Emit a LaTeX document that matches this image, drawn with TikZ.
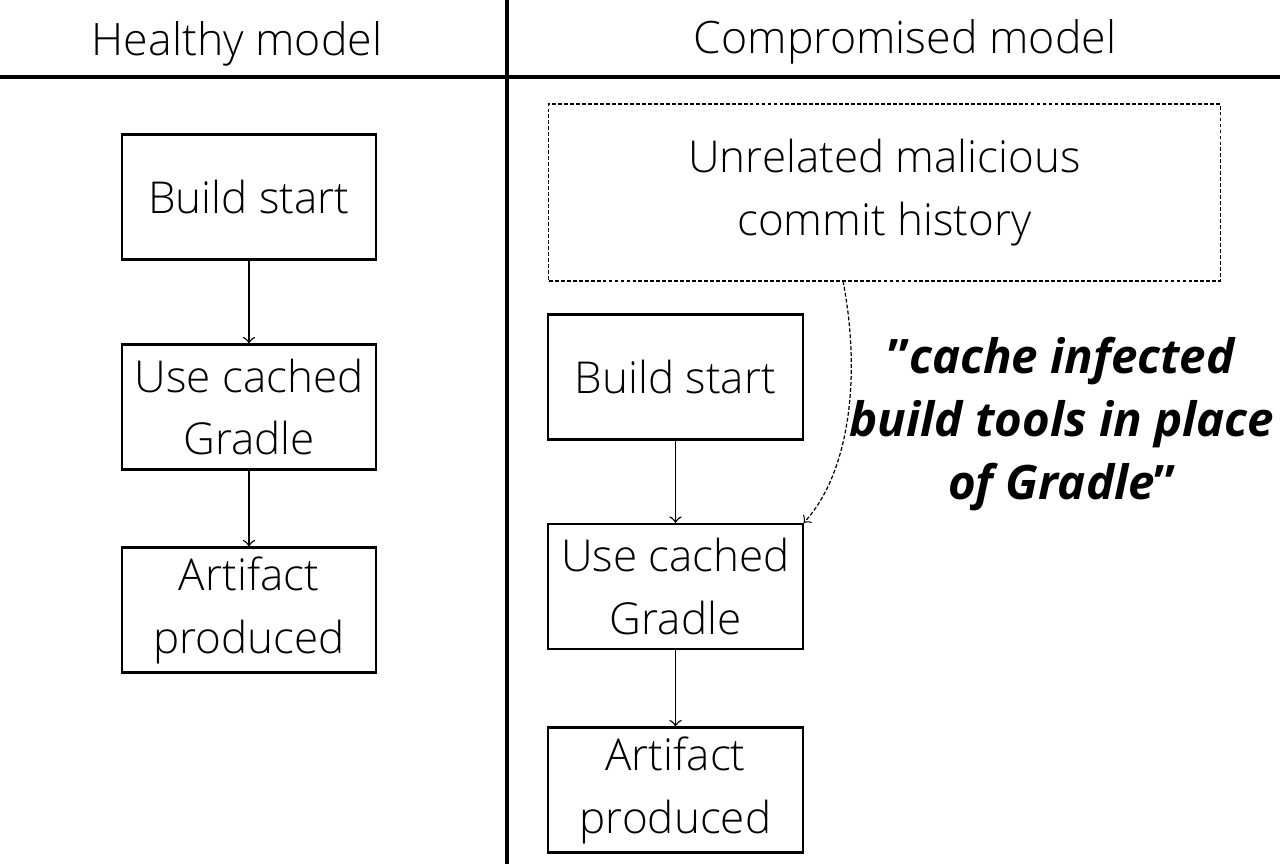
\documentclass[tikz,border=0pt]{standalone}
\usepackage{fontspec}
\setmainfont{Open Sans}[UprightFont=* Light, BoldItalicFont=* Bold Italic, BoldFont=* Bold]
\newcommand\cellfont{\fontsize{12.5}{17.9}\selectfont}
\newcommand\headfont{\fontsize{12.7}{17}\selectfont}
\newcommand\quotefont{\fontsize{13.5}{17.9}\selectfont\bfseries}

\begin{document}
\begin{tikzpicture}[
      x=0.01cm, y=-0.01cm,
      box/.style={draw, line width=0.6pt, minimum width=2.54cm, minimum height=1.25cm,
        align=center, inner sep=0pt, font=\cellfont},
      flow/.style={->, line width=0.4pt},
      dots/.style={line width=0.35pt, dash pattern=on 1.1pt off 0.6pt}
    ]
    \useasboundingbox (0,0) rectangle (1280,864);
    % divisores
    \draw[line width=1.2pt] (0,77) -- (1280,77);
    \draw[line width=1.2pt] (507,0) -- (507,864);
    \node (lt) [font=\headfont] at (237,44) {Healthy model};
    \node (rt) [font=\headfont] at (905,42) {Compromised model};
    % modelo saudavel
    \node (hs) [box] at (249,197) {Build start};
    \node (hc) [box] at (249,407) {Use cached\\Gradle};
    \node (ha) [box] at (249,610) {Artifact\\produced};
    \draw[flow] (hs) -- (hc);
    \draw[flow] (hc) -- (ha);
    % modelo comprometido
    \node (mal) [box, dots, minimum width=6.71cm, minimum height=1.77cm] at (884.5,192.5)
      {Unrelated malicious\\commit history};
    \node (cs) [box] at (675.5,377) {Build start};
    \node (cc) [box] at (675.5,586.5) {Use cached\\Gradle};
    \node (ca) [box] at (675.5,790) {Artifact\\produced};
    \draw[flow] (cs) -- (cc);
    \draw[flow] (cc) -- (ca);
    \coordinate (tap) at (843,281);
    \draw[flow, dots] (tap) .. controls (862,380) and (848,475) .. (cc.north east);
    \node (quote) [font=\quotefont, align=center] at (1062,424)
      {"\textit{cache infected}\\\textit{build tools in place}\\\textit{of Gradle}"};
\end{tikzpicture}
\end{document}
